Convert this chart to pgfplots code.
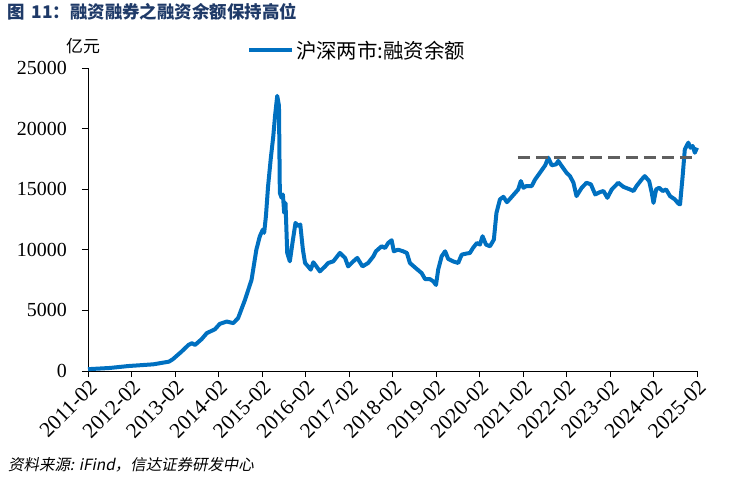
\documentclass[border=0pt]{standalone}
\usepackage{pgfplots}
\pgfplotsset{compat=1.18}
\usepackage{fontspec}
\setmainfont{Liberation Serif}
\newfontfamily\cjk{Noto Sans CJK SC}
\newfontfamily\cjkit{Noto Sans CJK SC}[FakeSlant=0.2]
\definecolor{lineblue}{HTML}{0070C0}
\definecolor{dashgray}{HTML}{5F5F5F}
\definecolor{titleblue}{HTML}{1F3A68}
\pgfplotstableread{
x y
0 150
0.5 250
0.93 410
1.5 550
1.86 770
1.95 970
2.15 1600
2.31 2150
2.39 2290
2.46 2150
2.61 2620
2.73 3120
2.92 3450
3.03 3890
3.19 4080
3.34 3950
3.45 4360
3.61 5880
3.76 7530
3.87 10000
3.95 11120
4.02 11670
4.05 11400
4.09 12770
4.14 15260
4.20 17470
4.26 19400
4.30 21050
4.35 22700
4.39 21880
4.41 14700
4.45 14290
4.48 14570
4.51 13050
4.54 13870
4.58 9740
4.64 9050
4.70 10560
4.77 12220
4.83 11950
4.88 12090
4.94 10010
4.99 8910
5.06 8630
5.12 8360
5.18 8970
5.25 8630
5.33 8220
5.45 8630
5.52 8910
5.64 9050
5.79 9740
5.91 9330
5.98 8630
6.10 9050
6.19 9330
6.31 8630
6.44 8910
6.56 9460
6.62 9880
6.75 10290
6.83 10150
6.90 10560
6.98 10790
7.03 9880
7.13 10010
7.24 9880
7.33 9740
7.40 8910
7.56 8410
7.67 8080
7.75 7580
7.86 7580
7.94 7390
8.00 7100
8.05 8360
8.13 9460
8.21 9880
8.28 9250
8.39 9050
8.51 8910
8.59 9600
8.70 9690
8.78 9740
8.85 10150
8.94 10560
9.01 10430
9.07 11120
9.15 10430
9.24 10290
9.33 10840
9.39 13050
9.47 14160
9.55 14370
9.63 13930
9.70 14200
9.79 14570
9.89 14980
9.95 15670
10.01 15120
10.08 15260
10.20 15260
10.28 15810
10.39 16360
10.51 16970
10.58 17600
10.66 16970
10.76 17050
10.81 17330
10.89 16910
11.00 16360
11.08 16080
11.16 15530
11.23 14430
11.35 15120
11.46 15530
11.56 15400
11.66 14570
11.77 14760
11.85 14850
11.94 14290
12.04 14980
12.19 15530
12.31 15190
12.46 14980
12.54 14850
12.61 15260
12.73 15810
12.80 16080
12.90 15670
12.96 14700
13.00 13870
13.06 14980
13.13 15120
13.21 14850
13.29 14980
13.38 14430
13.49 14160
13.57 13820
13.61 13740
13.67 16080
13.72 18290
13.80 18840
13.85 18420
13.90 18570
13.95 18010
14.00 18420
}\margin
\begin{document}
\begin{tikzpicture}
\useasboundingbox (0,0) rectangle (731bp,482bp);
\node[anchor=west, inner sep=0pt, text=titleblue, font=\cjk\bfseries\fontsize{17.5}{17.5}\selectfont] at (7bp,470bp) {图\hspace{0.4em}11：融资融券之融资余额保持高位};
\node[anchor=west, inner sep=0pt, font=\cjk\fontsize{17}{17}\selectfont] at (66bp,436bp) {亿元};
\node[anchor=west, inner sep=0pt, font=\cjkit\fontsize{15.5}{15.5}\selectfont] at (8bp,17bp) {资料来源: iFind，信达证券研发中心};
\begin{axis}[
  at={(88bp,111bp)}, anchor=south west,
  scale only axis, width=609bp, height=303bp,
  xmin=0, xmax=14, ymin=0, ymax=25000,
  axis x line=bottom, axis y line=left,
  axis line style={-, line width=0.8bp, black},
  xtick={0,...,14},
  xticklabels={2011-02,2012-02,2013-02,2014-02,2015-02,2016-02,2017-02,2018-02,2019-02,2020-02,2021-02,2022-02,2023-02,2024-02,2025-02},
  ytick={0,5000,10000,15000,20000,25000},
  scaled y ticks=false,
  yticklabel={\pgfmathprintnumber[fixed,precision=0,1000 sep={}]{\tick}},
  tick align=outside, major tick length=6bp,
  tick style={black, line width=0.8bp},
  /pgf/number format/1000 sep={},
  /pgf/number format/assume math mode=true,
  tick label style={font=\fontsize{20}{20}\selectfont},
  xticklabel style={rotate=45, anchor=north east, inner sep=1bp, font=\fontsize{21.5}{21.5}\selectfont},
  yticklabel style={inner sep=0pt, xshift=-15bp},
  legend style={draw=none, fill=none, at={(0.261,1.059)}, anchor=west, inner sep=0pt, font=\cjk\fontsize{20.5}{20.5}\selectfont},
  legend image code/.code={\draw[#1] (0bp,0bp) -- (43bp,0bp);},
  clip=false,
]
\addplot[lineblue, line width=4bp, line join=round] table[x=x,y=y] {\margin};
\addlegendentry{沪深两市:融资余额}
\addplot[dashgray, line width=3.5bp, dash pattern=on 12bp off 6bp, forget plot] coordinates {(9.88,17600) (14,17600)};
\end{axis}
\end{tikzpicture}
\end{document}
